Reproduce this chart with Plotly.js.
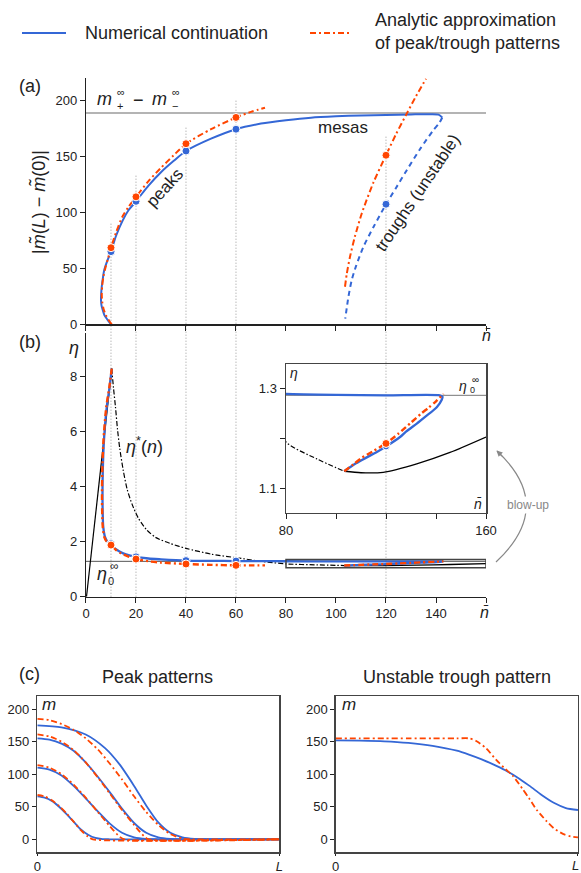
<!DOCTYPE html>
<html><head><meta charset="utf-8">
<script src="https://cdn.plot.ly/plotly-3.0.1.min.js"></script>
<style>html,body{margin:0;padding:0;background:#fff}#plot{width:581px;height:873px}</style>
</head><body><div id="plot"></div>
<script>
// ---------- data ----------
const guideN   = [10, 20, 40, 60, 120];
const guideTop = [90, 133, 176, 201, 169];

const mesaLevel = 189;
const eta0inf = 1.287;

// panel (a)
const blueA_n = [10.0, 8.7, 7.4, 6.7, 6.2, 6.0, 6.1, 6.3, 6.8, 7.3, 8.4, 10, 12, 14.7, 17, 20, 25, 30, 35, 40, 50, 60, 70, 80, 90, 100, 110, 120, 130, 138, 141, 142.5];
const blueA_m = [0, 3.8, 8, 12.8, 17, 21.7, 28, 33.6, 42, 48.5, 56, 65, 79, 93, 102, 110, 124, 136, 146, 155, 166, 174.5, 179.5, 182.5, 184.8, 186, 186.8, 187.3, 187.7, 187.9, 187.5, 185];
const blueTrA_n = [142.5, 141.3, 138.9, 134, 128.3, 124, 120, 115, 110.9, 108, 106.3, 105, 103.7];
const blueTrA_m = [185, 180, 173.5, 158, 137.8, 122, 107.4, 87, 69, 52, 39.6, 25, 5];
const redA_n = [10.3, 9.3, 8.0, 7.0, 6.5, 6.3, 6.5, 7.0, 7.7, 8.7, 10, 12, 14.5, 17, 20, 25, 30, 35, 40, 50, 60, 66, 71.6];
const redA_m = [0, 3, 8, 14, 20, 27, 35, 43, 50, 58, 68.5, 82, 96, 105, 114, 128, 140, 151, 161.5, 174.5, 185, 190, 193.7];
const redTrA_n = [103.6, 104.3, 105.6, 107.5, 110.3, 115, 120, 124, 128.3, 132, 136];
const redTrA_m = [33.6, 45, 60.4, 78, 99.1, 127, 151.2, 170, 188.4, 204, 219.6];

const dotN = [10, 20, 40, 60];
const blueDotA = [65, 110, 155, 174.5];
const redDotA  = [68.5, 114, 161.5, 185];
const troughDotN = [120];
const blueTrDotA = [107.4];
const redTrDotA  = [151.2];

// panel (b)
const blueB_n   = [10.3, 9.4, 8.3, 7.2, 6.7, 6.6, 6.7, 6.9, 7.6, 8.5, 10, 11.5, 13.6, 16, 20, 25, 30, 40, 50, 60, 70, 80, 100, 120, 141.5, 142.6, 142.3, 140.3, 136, 132.3, 128, 125.6, 120, 116, 112.3, 108, 105.6, 103.3];
const blueB_eta = [8.3, 7.6, 6.9, 5.7, 4.5, 3.6, 3.0, 2.55, 2.18, 2.02, 1.93, 1.76, 1.64, 1.54, 1.45, 1.39, 1.36, 1.315, 1.305, 1.298, 1.293, 1.29, 1.288, 1.287, 1.287, 1.284, 1.278, 1.263, 1.245, 1.23, 1.214, 1.203, 1.184, 1.172, 1.162, 1.15, 1.142, 1.134];
const redB_n   = [10.3, 9.3, 8.1, 7.0, 6.5, 6.4, 6.5, 6.7, 7.3, 8.3, 10, 12, 14, 17, 20, 25, 30, 40, 50, 60, 66, 71.6];
const redB_eta = [8.3, 7.6, 6.9, 5.7, 4.5, 3.6, 3.0, 2.55, 2.18, 2.0, 1.88, 1.7, 1.58, 1.46, 1.37, 1.29, 1.24, 1.19, 1.16, 1.14, 1.14, 1.14];
const redTrB_n   = [103.3, 107, 110, 115, 120, 125, 130, 134, 137, 140, 143];
const redTrB_eta = [1.134, 1.148, 1.16, 1.175, 1.19, 1.21, 1.232, 1.25, 1.262, 1.275, 1.29];
const etaStarLine_n   = [0.2, 10.3];
const etaStarLine_eta = [0, 8.3];
const etaStarDD_n   = [10.3, 11, 11.8, 12.6, 13.5, 14.9, 16.5, 18.5, 21, 24.3, 28, 33.6, 40, 50, 60, 70, 80, 92.3, 103.3];
const etaStarDD_eta = [8.3, 7.6, 6.9, 6.1, 5.4, 4.6, 3.9, 3.35, 2.85, 2.43, 2.15, 1.94, 1.76, 1.55, 1.42, 1.29, 1.193, 1.159, 1.134];
const etaStarSol_n   = [103.3, 110, 118.9, 132.3, 145.6, 160];
const etaStarSol_eta = [1.134, 1.131, 1.132, 1.149, 1.172, 1.203];
const blueDotB = [1.93, 1.45, 1.315, 1.298];
const redDotB  = [1.88, 1.37, 1.19, 1.14];
const blueTrDotB = [1.184];
const redTrDotB  = [1.19];

// panel (c) peak patterns
const pk_b1_x = [0, 0.03, 0.06, 0.09, 0.12, 0.15, 0.18, 0.21, 0.24, 0.27, 0.3, 1];
const pk_b1_m = [66, 64, 59, 50, 39, 27, 15, 7, 2, 0.3, 0, 0];
const pk_b2_x = [0, 0.05, 0.1, 0.15, 0.2, 0.25, 0.3, 0.35, 0.4, 0.45, 0.5, 1];
const pk_b2_m = [110, 107, 98, 82, 63, 43, 24, 10, 3, 0.5, 0, 0];
const pk_b3_x = [0, 0.05, 0.1, 0.15, 0.2, 0.25, 0.3, 0.35, 0.4, 0.45, 0.5, 0.55, 0.6, 1];
const pk_b3_m = [155, 153, 147, 136, 118, 96, 72, 47, 25, 10, 3, 0.5, 0, 0];
const pk_b4_x = [0, 0.1, 0.2, 0.28, 0.34, 0.4, 0.45, 0.5, 0.55, 0.6, 0.65, 0.7, 1];
const pk_b4_m = [175, 172, 161, 140, 115, 82, 52, 26, 10, 3, 0.5, 0, 0];
const pk_r1_x = [0, 0.03, 0.06, 0.09, 0.12, 0.15, 0.18, 0.21, 0.23, 1];
const pk_r1_m = [68, 66, 60, 51, 40, 27, 14, 4, 0, 0];
const pk_r2_x = [0, 0.05, 0.1, 0.15, 0.2, 0.25, 0.3, 0.34, 0.36, 1];
const pk_r2_m = [114, 110, 100, 84, 64, 42, 20, 4, 0, 0];
const pk_r3_x = [0, 0.05, 0.1, 0.15, 0.2, 0.25, 0.3, 0.35, 0.4, 0.44, 0.46, 1];
const pk_r3_m = [161, 158, 150, 137, 118, 95, 70, 45, 22, 5, 0, 0];
const pk_r4_x = [0, 0.05, 0.1, 0.15, 0.2, 0.25, 0.3, 0.35, 0.4, 0.45, 0.5, 0.55, 0.6, 0.63, 1];
const pk_r4_m = [185, 183, 177, 168, 155, 138, 116, 92, 66, 42, 22, 8, 1, 0, 0];

// panel (c) unstable trough pattern
const tr_b_x = [0, 0.1, 0.2, 0.3, 0.4, 0.5, 0.55, 0.6, 0.65, 0.7, 0.75, 0.8, 0.85, 0.9, 0.95, 1];
const tr_b_m = [152, 151.5, 150.5, 148, 143.5, 136, 130, 123, 115, 106, 95, 82, 68, 56, 48, 45];
const tr_r_x = [0, 0.1, 0.2, 0.3, 0.4, 0.5, 0.55, 0.58, 0.62, 0.66, 0.7, 0.73, 0.77, 0.8, 0.83, 0.87, 0.9, 0.94, 0.97, 1];
const tr_r_m = [155, 155, 155, 155, 155, 155, 155, 151, 140, 123, 108, 98, 78, 62, 45, 28, 17, 8, 4.5, 3];

// ---------- styling ----------
const W = 581, H = 873;
const PX = x => x / W, PY = y => 1 - y / H;
const BLUE = '#3467d6', RED = '#ff4500', FONT = 'Liberation Sans, Arial, sans-serif';
const REDDASH = '6px,3px,2px,3px';
const domA = [0.6285, 0.9103], domB = [0.3165, 0.6186];
const domXab = [0.148, 0.8365];

function ln(x, y, xa, ya, color, width, dash, extra) {
  return Object.assign({x, y, xaxis: xa, yaxis: ya, type: 'scatter', mode: 'lines',
    line: {color, width, dash: dash || 'solid', shape: 'spline', smoothing: 0.7}, hoverinfo: 'skip'}, extra || {});
}
function dots(x, y, xa, ya, color, size) {
  return {x, y, xaxis: xa, yaxis: ya, type: 'scatter', mode: 'markers',
    marker: {color, size: size || 8, line: {color: '#fff', width: 1}}, hoverinfo: 'skip'};
}

const traces = [];
// (a)
traces.push(ln(blueA_n, blueA_m, 'x', 'y', BLUE, 2));
traces.push(ln(blueTrA_n, blueTrA_m, 'x', 'y', BLUE, 2, '5px,4px'));
traces.push(ln(redA_n, redA_m, 'x', 'y', RED, 2, REDDASH));
traces.push(ln(redTrA_n, redTrA_m, 'x', 'y', RED, 2, REDDASH));
traces.push(dots(dotN, blueDotA, 'x', 'y', BLUE));
traces.push(dots(troughDotN, blueTrDotA, 'x', 'y', BLUE));
traces.push(dots(dotN, redDotA, 'x', 'y', RED));
traces.push(dots(troughDotN, redTrDotA, 'x', 'y', RED));
// (b) main and inset
[['x2', 'y2'], ['x3', 'y3']].forEach(([xa, ya]) => {
  traces.push(ln(etaStarLine_n, etaStarLine_eta, xa, ya, '#000', 1.2, 'solid', {line: {color: '#000', width: 1.2}}));
  traces.push(ln(etaStarDD_n, etaStarDD_eta, xa, ya, '#000', 1.2, '5px,2px,1.5px,2px'));
  traces.push(ln(etaStarSol_n, etaStarSol_eta, xa, ya, '#000', 1.3));
  traces.push(ln(blueB_n, blueB_eta, xa, ya, BLUE, 2.3));
  traces.push(ln(redB_n, redB_eta, xa, ya, RED, 2.4, REDDASH));
  traces.push(ln(redTrB_n, redTrB_eta, xa, ya, RED, 2.4, REDDASH));
});
traces.push(dots(dotN, blueDotB, 'x2', 'y2', BLUE));
traces.push(dots(dotN, redDotB, 'x2', 'y2', RED));
traces.push(dots(troughDotN, blueTrDotB, 'x3', 'y3', BLUE, 7));
traces.push(dots(troughDotN, redTrDotB, 'x3', 'y3', RED, 8));
// (c)
[[pk_b1_x, pk_b1_m], [pk_b2_x, pk_b2_m], [pk_b3_x, pk_b3_m], [pk_b4_x, pk_b4_m]].forEach(([x, y]) =>
  traces.push(ln(x, y, 'x4', 'y4', BLUE, 1.8)));
[[pk_r1_x, pk_r1_m], [pk_r2_x, pk_r2_m], [pk_r3_x, pk_r3_m], [pk_r4_x, pk_r4_m]].forEach(([x, y]) =>
  traces.push(ln(x, y, 'x4', 'y4', RED, 1.8, REDDASH)));
traces.push(ln(tr_b_x, tr_b_m, 'x5', 'y5', BLUE, 1.8));
traces.push(ln(tr_r_x, tr_r_m, 'x5', 'y5', RED, 1.8, REDDASH));

const axBase = {showgrid: false, zeroline: false, showline: true, linecolor: '#222', linewidth: 1.2,
  ticks: 'outside', ticklen: 5, tickwidth: 1, tickcolor: '#222', tickfont: {size: 13, color: '#222', family: FONT},
  fixedrange: true};
const ax = o => Object.assign({}, axBase, o);
const nTicks = [0, 20, 40, 60, 80, 100, 120, 140, 160];

const shapes = [];
shapes.push({type: 'line', xref: 'x', yref: 'y', x0: 0, x1: 160, y0: mesaLevel, y1: mesaLevel, line: {color: '#b4b4b4', width: 2}, layer: 'below'});
shapes.push({type: 'line', xref: 'x2', yref: 'y2', x0: 0, x1: 160, y0: eta0inf, y1: eta0inf, line: {color: '#555', width: 1}, layer: 'below'});
shapes.push({type: 'line', xref: 'x3', yref: 'y3', x0: 80, x1: 160, y0: eta0inf, y1: eta0inf, line: {color: '#777', width: 1}, layer: 'below'});
shapes.push({type: 'rect', xref: 'x2', yref: 'y2', x0: 80, x1: 160, y0: 1.05, y1: 1.35, line: {color: '#444', width: 1.5}});
guideN.forEach((n, i) => {
  shapes.push({type: 'line', xref: 'x', yref: 'paper', x0: n, x1: n, y0: domB[0],
    y1: domA[0] + guideTop[i] / 220 * (domA[1] - domA[0]), line: {color: '#999', width: 1, dash: '1px,2px'}, layer: 'below'});
});
// legend samples
shapes.push({type: 'line', xref: 'paper', yref: 'paper', x0: PX(22), x1: PX(66), y0: PY(33), y1: PY(33), line: {color: BLUE, width: 2}});
shapes.push({type: 'line', xref: 'paper', yref: 'paper', x0: PX(310), x1: PX(352), y0: PY(33), y1: PY(33), line: {color: RED, width: 2, dash: REDDASH}});
// blow-up arrow curve
shapes.push({type: 'path', xref: 'paper', yref: 'paper',
  path: `M ${PX(496)} ${PY(562)} Q ${PX(556)} ${PY(506)} ${PX(497)} ${PY(451)}`, line: {color: '#888', width: 1.2}});

const A = (x, y, text, o) => Object.assign({xref: 'paper', yref: 'paper', x: PX(x), y: PY(y), text, showarrow: false,
  font: {family: FONT, size: 18, color: '#222'}, xanchor: 'center', yanchor: 'middle'}, o || {});
const small = s => ({font: {family: FONT, size: s, color: '#222'}});

const annotations = [
  // legend
  A(83, 33, 'Numerical continuation', {xanchor: 'left'}),
  A(373, 32, 'Analytic approximation<br>of peak/trough patterns', {xanchor: 'left', align: 'left'}),
  // panel labels
  A(30, 86, '(a)'), A(30, 342, '(b)'), A(29, 674, '(c)'),
  // (a) labels
  A(38, 202, '|<i>m\u0303</i>(<i>L</i>) − <i>m\u0303</i>(0)|', {textangle: -90}),
  A(104, 99, '<i>m</i>'), A(121, 92, '∞', small(11)), A(120, 106, '+', small(11)),
  A(138, 100, '−'),
  A(159, 99, '<i>m</i>'), A(176, 92, '∞', small(11)), A(175, 106, '−', small(11)),
  A(164, 188, 'peaks', {textangle: -48, font: {family: FONT, size: 17, color: '#222'}}),
  A(343, 127, 'mesas', {font: {family: FONT, size: 17, color: '#222'}}),
  A(417, 193, 'troughs (unstable)', {textangle: -56, font: {family: FONT, size: 17, color: '#222'}}),
  A(486, 336, '<i>n\u0304</i>', small(16)),
  // (b) labels
  A(74, 348, '<i>η</i>'),
  A(144, 446, '<i>η</i><sup>*</sup>(<i>n</i>)'),
  A(102, 574, '<i>η</i>'), A(114, 566, '∞', small(12)), A(111, 581, '0', small(11)),
  A(484, 612, '<i>n\u0304</i>', small(16)),
  // inset labels
  A(294, 373, '<i>η</i>', small(14)),
  A(478, 504, '<i>n\u0304</i>', small(14)),
  A(463, 386, '<i>η</i>', small(14)), A(475, 379, '∞', small(10)), A(472, 390, '0', small(9)),
  A(528, 505, 'blow-up', {font: {family: FONT, size: 12, color: '#888'}, bgcolor: '#fff'}),
  {xref: 'paper', yref: 'paper', x: PX(496.5), y: PY(450.5), ax: 7, ay: 7, text: '', showarrow: true,
    arrowhead: 2, arrowsize: 1, arrowwidth: 1.2, arrowcolor: '#888'},
  // (c) labels
  A(157, 677, 'Peak patterns'), A(457, 677, 'Unstable trough pattern'),
  A(49, 704, '<i>m</i>', small(17)), A(349, 704, '<i>m</i>', small(17)),
  A(581, 865, '<i>L</i>', {xanchor: 'right', font: {family: FONT, size: 13, color: '#222'}})
];

const cx = {range: [0, 1], tickvals: [0, 1], mirror: true, linecolor: '#444', linewidth: 1.4, ticklen: 2};
const cy = {range: [-20, 220], tickvals: [0, 50, 100, 150, 200], mirror: true, linecolor: '#444', linewidth: 1.4, ticklen: 4};

const layout = {
  width: W, height: H, margin: {l: 0, r: 0, t: 0, b: 0}, paper_bgcolor: '#fff', plot_bgcolor: 'rgba(0,0,0,0)',
  showlegend: false, hovermode: false, font: {family: FONT, color: '#222'},
  xaxis:  ax({domain: domXab, anchor: 'y', range: [0, 160], tickvals: nTicks, showticklabels: false}),
  yaxis:  ax({domain: domA, anchor: 'x', range: [0, 220], tickvals: [0, 50, 100, 150, 200]}),
  xaxis2: ax({domain: domXab, anchor: 'y2', range: [0, 160], tickvals: nTicks,
              ticktext: ['0', '20', '40', '60', '80', '100', '120', '140', '']}),
  yaxis2: ax({domain: domB, anchor: 'x2', range: [0, 9.6], tickvals: [0, 2, 4, 6, 8]}),
  xaxis3: ax({domain: [0.4923, 0.8365], anchor: 'y3', range: [80, 160], tickvals: [80, 100, 120, 140, 160],
              ticktext: ['80', '', '', '', '160'], mirror: true, linecolor: '#444', linewidth: 1.5}),
  yaxis3: ax({domain: [0.4124, 0.583], anchor: 'x3', range: [1.05, 1.35], tickvals: [1.1, 1.2, 1.3],
              ticktext: ['1.1', '', '1.3'], mirror: true, linecolor: '#444', linewidth: 1.5}),
  xaxis4: ax(Object.assign({domain: [0.0642, 0.4807], anchor: 'y4', ticktext: ['0', '<i>L</i>']}, cx)),
  yaxis4: ax(Object.assign({domain: [0.0237, 0.2027], anchor: 'x4'}, cy)),
  xaxis5: ax(Object.assign({domain: [0.5778, 0.9948], anchor: 'y5', ticktext: ['0', '']}, cx)),
  yaxis5: ax(Object.assign({domain: [0.0237, 0.2027], anchor: 'x5'}, cy)),
  shapes, annotations
};

Plotly.newPlot('plot', traces, layout, {staticPlot: true, displayModeBar: false});
</script></body></html>
